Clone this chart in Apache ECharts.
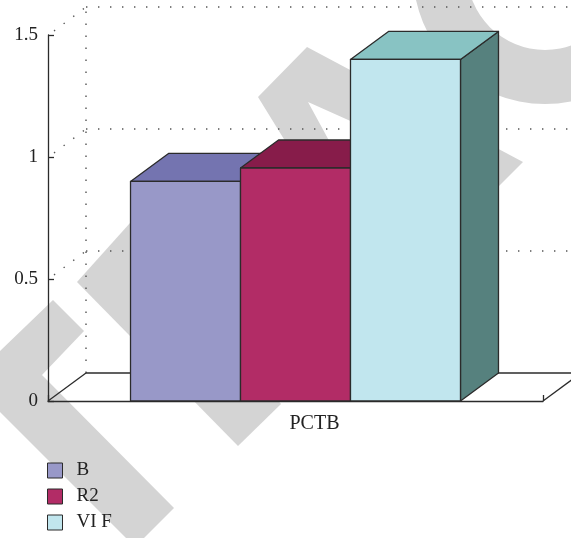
<!DOCTYPE html>
<html>
<head>
<meta charset="utf-8">
<script src="https://cdn.jsdelivr.net/npm/echarts@6/dist/echarts.min.js"></script>
<style>
  html, body { margin: 0; padding: 0; background: #fff; }
  #chart { width: 571px; height: 538px; }
</style>
</head>
<body>
<div id="chart"></div>
<script>
// ---- data ----
const categories = ['PCTB'];
const seriesNames = ['B', 'R2', 'VI F'];
const valuesB = [0.90];
const valuesR2 = [0.955];
const valuesVIF = [1.40];
const yTicks = [0, 0.5, 1, 1.5];

// ---- styling ----
const FONT = "'Liberation Serif', 'DejaVu Serif', serif";
const TEXT = '#222';
const EDGE = '#2b2b2b';
const DX = 38, DY = -28;          // depth offset of the 3-D box
const BAR_FRACTION = 0.2222;      // each bar's share of the category band
const faces = [
  { front: '#9898c8', top: '#7474b0', side: '#5c5c92' },
  { front: '#b22c66', top: '#871c4a', side: '#6a1539' },
  { front: '#c1e6ee', top: '#88c3c3', side: '#56817e' }
];
const seriesValues = [valuesB, valuesR2, valuesVIF];

function barRenderer(idx, nBars, col) {
  return function (params, api) {
    const cat = api.value(0);
    const v = api.value(1);
    const base = api.coord([cat, 0]);
    const top = api.coord([cat, v]);
    const bw = api.size([1, 0])[0] * BAR_FRACTION;
    const x0 = base[0] - bw * nBars / 2 + idx * bw;
    const x1 = x0 + bw;
    const yb = base[1], yt = top[1];
    const stroke = { stroke: EDGE, lineWidth: 1.3, lineJoin: 'round' };
    return {
      type: 'group',
      children: [
        { type: 'polygon', shape: { points: [[x1, yb], [x1 + DX, yb + DY], [x1 + DX, yt + DY], [x1, yt]] },
          style: Object.assign({ fill: col.side }, stroke) },
        { type: 'polygon', shape: { points: [[x0, yt], [x1, yt], [x1 + DX, yt + DY], [x0 + DX, yt + DY]] },
          style: Object.assign({ fill: col.top }, stroke) },
        { type: 'rect', shape: { x: x0, y: yt, width: bw, height: yb - yt },
          style: Object.assign({ fill: col.front }, stroke) }
      ]
    };
  };
}

// back wall, floor and receding grid lines
function wallRenderer(params, api) {
  const cs = params.coordSys;
  const left = cs.x, right = cs.x + cs.width;
  const v = api.value(1);
  const y = api.coord([0, v])[1];
  const dotted = { stroke: '#555', lineWidth: 1.4, lineDash: [1.4, 10.6], fill: null };
  const solid = { stroke: EDGE, lineWidth: 1.3, fill: null };
  const kids = [];
  if (v === 0) {
    const topY = cs.y;
    kids.push({ type: 'line', shape: { x1: left + DX, y1: y + DY, x2: left + DX, y2: topY + DY }, style: dotted });
    kids.push({ type: 'line', shape: { x1: left, y1: y, x2: left + DX, y2: y + DY }, style: solid });
    kids.push({ type: 'line', shape: { x1: left + DX, y1: y + DY, x2: right + DX + 60, y2: y + DY }, style: solid });
    kids.push({ type: 'line', shape: { x1: right, y1: y, x2: right + DX, y2: y + DY }, style: solid });
  } else {
    kids.push({ type: 'line', shape: { x1: left + DX, y1: y + DY, x2: right + DX + 60, y2: y + DY }, style: dotted });
    kids.push({ type: 'line', shape: { x1: left + 6, y1: y - 4, x2: left + DX, y2: y + DY }, style: dotted });
  }
  return { type: 'group', children: kids };
}

// faint diagonal stamp painted on a layer underneath everything else
const STAMP = '#d4d4d4';
const stampShapes = [
  { type: 'polygon', shape: { points: [[0, 351], [53, 300], [84, 331], [42, 375], [174, 508], [144, 538], [126, 538], [0, 412]] } },
  { type: 'polygon', shape: { points: [[77, 282], [130, 223], [281, 404], [238, 446]] } },
  { type: 'polygon', shape: { points: [[307, 47], [523, 162], [498, 187], [308, 102], [345, 170], [303, 170], [258, 97]] } },
  { type: 'ring', shape: { cx: 545, cy: -28, r: 132, r0: 78 } }
];
function stampRenderer() {
  return {
    type: 'group',
    children: stampShapes.map(function (s) {
      return { type: s.type, shape: s.shape, style: { fill: STAMP } };
    })
  };
}

const chart = echarts.init(document.getElementById('chart'), null, { renderer: 'canvas' });

const barSeries = seriesNames.map(function (name, i) {
  return {
    name: name,
    type: 'custom',
    z: 4,
    clip: false,
    renderItem: barRenderer(i, seriesNames.length, faces[i]),
    itemStyle: { color: faces[i].front, borderColor: EDGE, borderWidth: 1 },
    encode: { x: 0, y: 1 },
    data: seriesValues[i].map(function (v, c) { return [c, v]; })
  };
});

chart.setOption({
  animation: false,
  backgroundColor: '#fff',
  grid: { left: 48, right: 28, top: 35, bottom: 137, containLabel: false },
  legend: {
    orient: 'vertical',
    left: 47,
    top: 461,
    padding: 0,
    itemWidth: 15,
    itemHeight: 15,
    itemGap: 7,
    icon: 'rect',
    itemStyle: { borderColor: EDGE, borderWidth: 1 },
    textStyle: { fontFamily: FONT, fontSize: 19, color: TEXT, padding: [0, 0, 0, 9] },
    data: seriesNames.map(function (n, i) {
      return { name: n, itemStyle: { color: faces[i].front, borderColor: EDGE, borderWidth: 1 } };
    })
  },
  xAxis: {
    type: 'category',
    z: 3,
    data: categories,
    boundaryGap: true,
    axisLine: { show: true, lineStyle: { color: EDGE, width: 1.3 } },
    axisTick: { show: true, inside: true, length: 6, lineStyle: { color: EDGE, width: 1.3 } },
    axisLabel: { fontFamily: FONT, fontSize: 20, color: TEXT, margin: 13, padding: [0, 0, 0, DX] },
    splitLine: { show: false }
  },
  yAxis: {
    type: 'value',
    z: 3,
    min: yTicks[0],
    max: yTicks[yTicks.length - 1],
    interval: yTicks[1] - yTicks[0],
    axisLine: { show: true, lineStyle: { color: EDGE, width: 1.3 } },
    axisTick: { show: true, inside: true, length: 6, lineStyle: { color: EDGE, width: 1.3 } },
    axisLabel: { fontFamily: FONT, fontSize: 19, color: TEXT, margin: 10 },
    splitLine: { show: false }
  },
  series: [{
    name: 'stamp',
    type: 'custom',
    zlevel: -1,
    z: 0,
    clip: false,
    silent: true,
    renderItem: stampRenderer,
    data: [[0, 0]]
  }, {
    name: 'wall',
    type: 'custom',
    z: 1,
    clip: false,
    silent: true,
    renderItem: wallRenderer,
    encode: { x: 0, y: 1 },
    data: yTicks.map(function (v) { return [0, v]; })
  }].concat(barSeries)
});
</script>
</body>
</html>
